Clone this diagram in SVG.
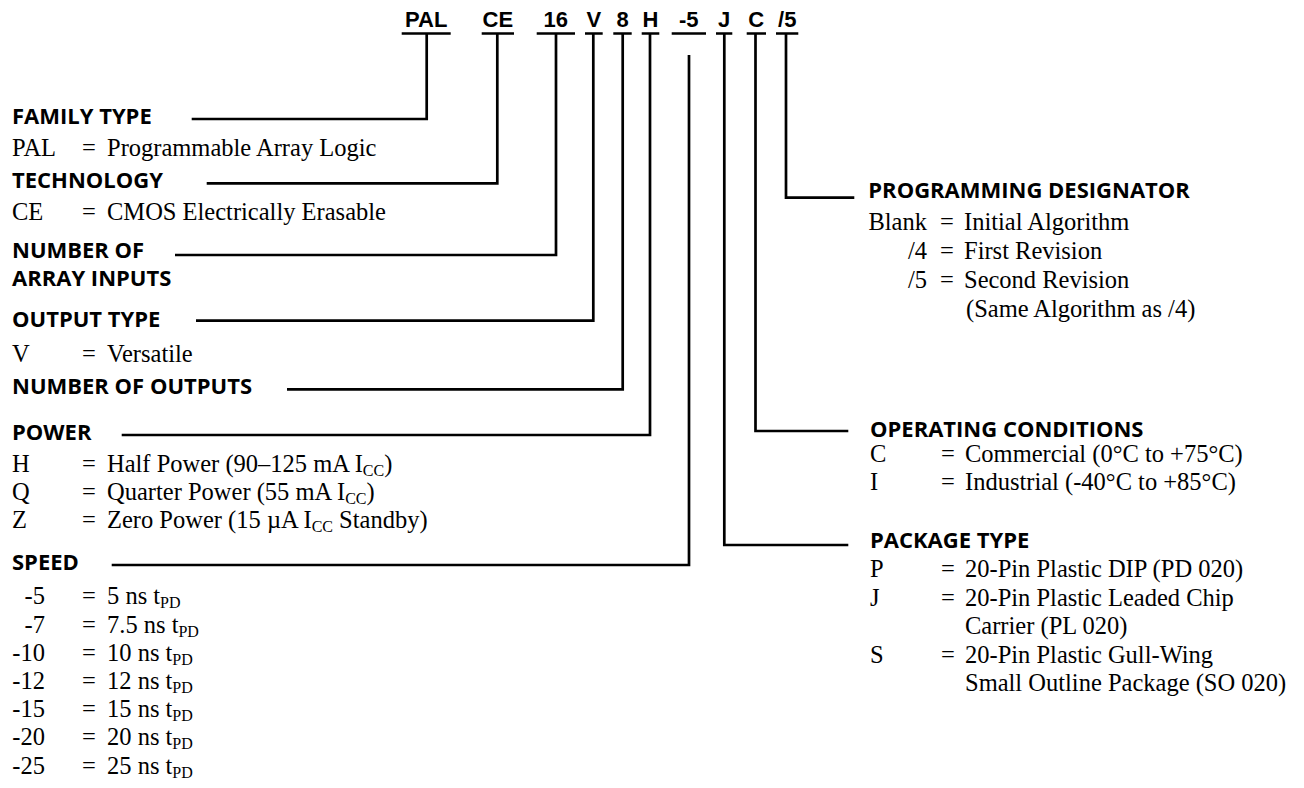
<svg xmlns="http://www.w3.org/2000/svg" width="1304" height="788" viewBox="0 0 1304 788">
<style>
.bg{fill:#ffffff}
.code{font-family:"Liberation Sans",Arial,sans-serif;font-weight:700;font-size:22px;fill:#000;text-anchor:middle}
.hd{font-family:"Open Sans","Liberation Sans",sans-serif;font-weight:700;font-size:22px;fill:#000}
.tx{font-family:"Liberation Serif","Times New Roman",serif;font-size:24.5px;fill:#000}
.end{text-anchor:end}
.sub{font-size:16px}
.ln{fill:none;stroke:#000;stroke-width:2.7;stroke-linecap:butt;stroke-linejoin:miter}
</style>
<rect class="bg" x="0" y="0" width="1304" height="788"/>

<g id="code">
  <text class="code" x="426.2" y="27">PAL</text>
  <text class="code" x="497.8" y="27">CE</text>
  <text class="code" x="555.8" y="27">16</text>
  <text class="code" x="593.8" y="27">V</text>
  <text class="code" x="622.5" y="27">8</text>
  <text class="code" x="650.5" y="27">H</text>
  <text class="code" x="688.8" y="27">-5</text>
  <text class="code" x="724.2" y="27">J</text>
  <text class="code" x="756.3" y="27">C</text>
  <text class="code" x="787.2" y="27">/5</text>
</g>

<g id="connectors">
  <path class="ln" d="M401.7 33.5H450.7 M481.7 33.5H514 M536.7 33.5H575 M585 33.5H602.7 M613.3 33.5H631.7 M641.7 33.5H659.3 M671.7 33.5H706 M716 33.5H732.3 M746.7 33.5H766 M776 33.5H798.3"/>
  <path class="ln" d="M426.7 33.5V119H191.7"/>
  <path class="ln" d="M497.3 33.5V183.3H206.7"/>
  <path class="ln" d="M556 33.5V255H175"/>
  <path class="ln" d="M593.3 33.5V320.7H196"/>
  <path class="ln" d="M622.7 33.5V389.3H287"/>
  <path class="ln" d="M650 33.5V435H121.7"/>
  <path class="ln" d="M689 55V565H111.7"/>
  <path class="ln" d="M724.3 33.5V545H848.3"/>
  <path class="ln" d="M755.5 33.5V431H848.3"/>
  <path class="ln" d="M786 33.5V197.7H854.3"/>
</g>

<g id="family-type">
  <text class="hd" x="12" y="124">FAMILY TYPE</text>
  <text class="tx" x="12" y="156">PAL</text>
  <text class="tx" x="82" y="156">=</text>
  <text class="tx" x="107" y="156">Programmable Array Logic</text>
</g>

<g id="technology">
  <text class="hd" x="12" y="188.3">TECHNOLOGY</text>
  <text class="tx" x="12" y="220">CE</text>
  <text class="tx" x="82" y="220">=</text>
  <text class="tx" x="107" y="220">CMOS Electrically Erasable</text>
</g>

<g id="array-inputs">
  <text class="hd" x="12" y="258.3">NUMBER OF</text>
  <text class="hd" x="12" y="285.5">ARRAY INPUTS</text>
</g>

<g id="output-type">
  <text class="hd" x="12" y="327">OUTPUT TYPE</text>
  <text class="tx" x="12" y="361.7">V</text>
  <text class="tx" x="82" y="361.7">=</text>
  <text class="tx" x="107" y="361.7">Versatile</text>
</g>

<g id="outputs">
  <text class="hd" x="12" y="394">NUMBER OF OUTPUTS</text>
</g>

<g id="power">
  <text class="hd" x="12" y="440">POWER</text>
  <text class="tx" x="12" y="471.7">H</text>
  <text class="tx" x="82" y="471.7">=</text>
  <text class="tx" x="107" y="471.7">Half Power (90–125 mA I<tspan class="sub" dy="4">CC</tspan><tspan dy="-4">)</tspan></text>
  <text class="tx" x="12" y="500">Q</text>
  <text class="tx" x="82" y="500">=</text>
  <text class="tx" x="107" y="500">Quarter Power (55 mA I<tspan class="sub" dy="4">CC</tspan><tspan dy="-4">)</tspan></text>
  <text class="tx" x="12" y="528.3">Z</text>
  <text class="tx" x="82" y="528.3">=</text>
  <text class="tx" x="107" y="528.3">Zero Power (15 µA I<tspan class="sub" dy="4">CC</tspan><tspan dy="-4"> Standby)</tspan></text>
</g>

<g id="speed">
  <text class="hd" x="12" y="570">SPEED</text>
  <text class="tx end" x="45" y="604.3">-5</text>
  <text class="tx" x="82" y="604.3">=</text>
  <text class="tx" x="107" y="604.3">5 ns t<tspan class="sub" dy="4">PD</tspan></text>
  <text class="tx end" x="45" y="632.5">-7</text>
  <text class="tx" x="82" y="632.5">=</text>
  <text class="tx" x="107" y="632.5">7.5 ns t<tspan class="sub" dy="4">PD</tspan></text>
  <text class="tx end" x="45" y="660.7">-10</text>
  <text class="tx" x="82" y="660.7">=</text>
  <text class="tx" x="107" y="660.7">10 ns t<tspan class="sub" dy="4">PD</tspan></text>
  <text class="tx end" x="45" y="688.9">-12</text>
  <text class="tx" x="82" y="688.9">=</text>
  <text class="tx" x="107" y="688.9">12 ns t<tspan class="sub" dy="4">PD</tspan></text>
  <text class="tx end" x="45" y="717.1">-15</text>
  <text class="tx" x="82" y="717.1">=</text>
  <text class="tx" x="107" y="717.1">15 ns t<tspan class="sub" dy="4">PD</tspan></text>
  <text class="tx end" x="45" y="745.3">-20</text>
  <text class="tx" x="82" y="745.3">=</text>
  <text class="tx" x="107" y="745.3">20 ns t<tspan class="sub" dy="4">PD</tspan></text>
  <text class="tx end" x="45" y="773.5">-25</text>
  <text class="tx" x="82" y="773.5">=</text>
  <text class="tx" x="107" y="773.5">25 ns t<tspan class="sub" dy="4">PD</tspan></text>
</g>

<g id="programming-designator">
  <text class="hd" x="868.3" y="198.3">PROGRAMMING DESIGNATOR</text>
  <text class="tx end" x="927" y="230">Blank</text>
  <text class="tx" x="940" y="230">=</text>
  <text class="tx" x="964" y="230">Initial Algorithm</text>
  <text class="tx end" x="927" y="259">/4</text>
  <text class="tx" x="940" y="259">=</text>
  <text class="tx" x="964" y="259">First Revision</text>
  <text class="tx end" x="927" y="288">/5</text>
  <text class="tx" x="940" y="288">=</text>
  <text class="tx" x="964" y="288">Second Revision</text>
  <text class="tx" x="966" y="317">(Same Algorithm as /4)</text>
</g>

<g id="operating-conditions">
  <text class="hd" x="870" y="436.7">OPERATING CONDITIONS</text>
  <text class="tx" x="870" y="462">C</text>
  <text class="tx" x="941" y="462">=</text>
  <text class="tx" x="965" y="462">Commercial (0°C to +75°C)</text>
  <text class="tx" x="870" y="490">I</text>
  <text class="tx" x="941" y="490">=</text>
  <text class="tx" x="965" y="490">Industrial (-40°C to +85°C)</text>
</g>

<g id="package-type">
  <text class="hd" x="870" y="548.3">PACKAGE TYPE</text>
  <text class="tx" x="870" y="577">P</text>
  <text class="tx" x="941" y="577">=</text>
  <text class="tx" x="965" y="577">20-Pin Plastic DIP (PD 020)</text>
  <text class="tx" x="870" y="605.5">J</text>
  <text class="tx" x="941" y="605.5">=</text>
  <text class="tx" x="965" y="605.5">20-Pin Plastic Leaded Chip</text>
  <text class="tx" x="965" y="634">Carrier (PL 020)</text>
  <text class="tx" x="870" y="662.5">S</text>
  <text class="tx" x="941" y="662.5">=</text>
  <text class="tx" x="965" y="662.5">20-Pin Plastic Gull-Wing</text>
  <text class="tx" x="965" y="691">Small Outline Package (SO 020)</text>
</g>
</svg>
